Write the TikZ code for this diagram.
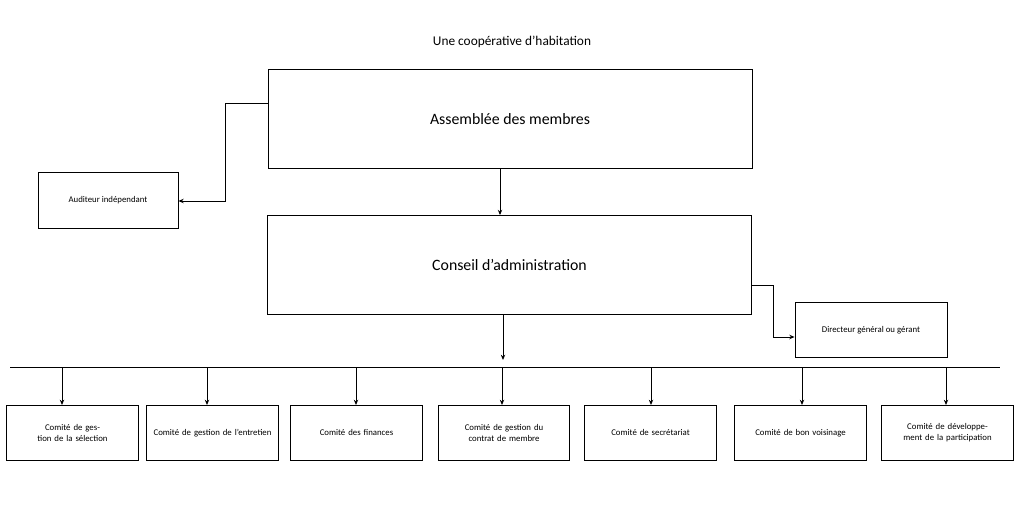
\documentclass[tikz,border=0pt]{standalone}
\usepackage{fontspec}
\setmainfont{Carlito}
\usetikzlibrary{arrows.meta}
\newcommand{\bigfnt}{\fontsize{9}{11}\selectfont}
\newcommand{\smlfnt}{\fontsize{5}{6.2}\selectfont}
\tikzset{
  bigbox/.style={draw,minimum width=9.68cm,minimum height=1.98cm,font=\bigfnt},
  sidebox/.style={draw,font=\smlfnt,align=center},
  combox/.style={draw,minimum width=2.58cm,minimum height=1.1cm,font=\smlfnt,
    align=center,text width=2.4cm,anchor=north},
  arr/.style={-{Stealth[length=3pt,width=2.5pt]},line width=0.5pt},
}
\begin{document}
\begin{tikzpicture}[x=0.02cm,y=-0.02cm,line width=0.5pt]
  \useasboundingbox (0,0) rectangle (1024,517);
  \node[font=\fontsize{7.6}{9}\selectfont] (title) at (512,42) {Une coopérative d’habitation};

  \node[bigbox] (assemb) at (510,119) {Assemblée des membres};
  \node[bigbox] (conseil) at (509.5,265) {Conseil d’administration};
  \node[sidebox,minimum width=2.8cm,minimum height=1.12cm] (audit) at (108,200) {Auditeur indépendant};
  \node[sidebox,minimum width=3.04cm,minimum height=1.1cm] (direct) at (871,330) {Directeur général ou gérant};

  \draw[arr] (assemb.west|-0,103) -| (225,201) -- (audit.east|-0,201);
  \draw[arr] (assemb.south-|500,0) -- (conseil.north-|500,0);
  \draw[arr] (conseil.east|-0,285) -| (773,337) -- (direct.west|-0,337);

  \coordinate (busl) at (10,367);
  \coordinate (busr) at (1000,367);
  \draw (busl) -- (busr);
  \draw[arr] (conseil.south-|503,0) -- (503,360);

  % comites
  \foreach \nm/\cx/\ax/\txt in {
      c1/72.5/62/{Comité de gestion de la sélection},
      c2/212.5/207/{Comité de gestion de l’entretien},
      c3/356.5/356/{Comité des finances},
      c4/504/502/{Comité de gestion du contrat de membre},
      c5/650.5/651/{Comité de secrétariat},
      c6/800.5/802/{Comité de bon voisinage},
      c7/947.5/946/{Comité de développement de la participation}}{
    \node[combox] (\nm) at (\cx,405) {\txt\par\vspace{20pt}};
    \draw[arr] (\ax,367) -- (\nm.north-|\ax,0);
  }
\end{tikzpicture}
\end{document}
